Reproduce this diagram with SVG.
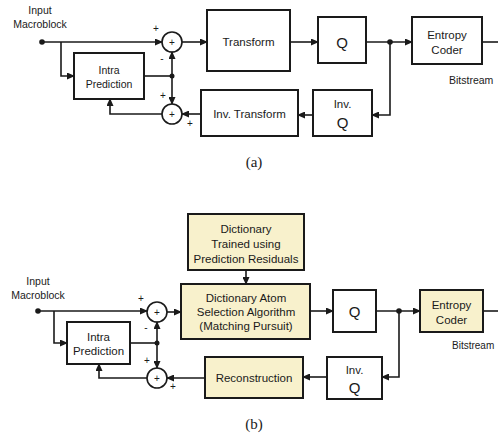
<svg xmlns="http://www.w3.org/2000/svg" width="498" height="435" viewBox="0 0 498 435">
<style>
.box{fill:#fff;stroke:#1a1a1a;stroke-width:2}
.yb{fill:#f8f1cc;stroke:#1a1a1a;stroke-width:2}
.sum{fill:#fff;stroke:#1a1a1a;stroke-width:1.6}
.ln{fill:none;stroke:#1a1a1a;stroke-width:1.6}
.ar{fill:none;stroke:#1a1a1a;stroke-width:1.6;marker-end:url(#ah)}
text{font-family:"Liberation Sans",Arial,sans-serif;font-size:11.5px;fill:#1a1a1a;text-anchor:middle}
.q{font-size:15px}
.sm{font-size:10.5px}
.s{font-size:10px}
.cap{font-family:"Liberation Serif","Times New Roman",serif;font-size:15px}
.st{text-anchor:start}
</style>
<defs>
<marker id="ah" markerWidth="8" markerHeight="7" refX="7" refY="3.5" orient="auto" markerUnits="userSpaceOnUse">
<path d="M0,0 L8,3.5 L0,7 Z" fill="#1a1a1a"/>
</marker>
</defs>

<!-- ===== (a) ===== -->
<g id="a-input"><text x="40" y="14" class="sm">Input</text><text x="40" y="28" class="sm">Macroblock</text><circle cx="42" cy="42" r="2.8" fill="#1a1a1a"/></g>
<g id="a-sum1"><circle class="sum" cx="172" cy="42" r="10"/><text x="172" y="46" class="s">+</text><text x="156" y="32" class="s">+</text><text x="162" y="62" class="s">-</text></g>
<g id="a-transform"><rect class="box" x="207" y="10" width="83" height="61"/><text x="248.5" y="46">Transform</text></g>
<g id="a-q"><rect class="box" x="318" y="17" width="48" height="46"/><text x="342" y="48" class="q">Q</text></g>
<g id="a-entropy"><rect class="box" x="412" y="17" width="70" height="47"/><text x="447" y="39">Entropy</text><text x="447" y="54">Coder</text></g>
<g id="a-bitstream"><text x="449" y="84" class="st" style="font-size:10.5px">Bitstream</text></g>
<g id="a-intra"><rect class="box" x="74" y="53" width="70" height="46"/><text x="109" y="74" class="sm">Intra</text><text x="109" y="88" class="sm">Prediction</text></g>
<g id="a-sum2"><circle class="sum" cx="172" cy="114" r="10"/><text x="172" y="118" class="s">+</text><text x="163" y="99" class="s">+</text><text x="190" y="127" class="s">+</text></g>
<g id="a-invtransform"><rect class="box" x="201" y="90" width="97" height="46"/><text x="249.5" y="118">Inv. Transform</text></g>
<g id="a-invq"><rect class="box" x="313" y="90" width="59" height="46"/><text x="342.5" y="108">Inv.</text><text x="342.5" y="128" class="q">Q</text></g>
<g id="a-caption"><text x="254" y="167" class="cap">(a)</text></g>

<!-- ===== (b) ===== -->
<g id="b-dict"><rect class="yb" x="188" y="214" width="116" height="56"/><text x="246" y="233">Dictionary</text><text x="246" y="248">Trained using</text><text x="246" y="263">Prediction Residuals</text></g>
<g id="b-atom"><rect class="yb" x="181" y="284" width="129" height="55"/><text x="246" y="302">Dictionary Atom</text><text x="246" y="316">Selection Algorithm</text><text x="246" y="330">(Matching Pursuit)</text></g>
<g id="b-input"><text x="38" y="285" class="sm">Input</text><text x="38" y="299" class="sm">Macroblock</text><circle cx="38" cy="311" r="2.8" fill="#1a1a1a"/></g>
<g id="b-sum1"><circle class="sum" cx="157" cy="312" r="10"/><text x="157" y="316" class="s">+</text><text x="141" y="302" class="s">+</text><text x="146" y="331" class="s">-</text></g>
<g id="b-intra"><rect class="box" x="67" y="322" width="63" height="42"/><text x="98.5" y="341">Intra</text><text x="98.5" y="355">Prediction</text></g>
<g id="b-sum2"><circle class="sum" cx="157" cy="378" r="10"/><text x="157" y="382" class="s">+</text><text x="147" y="364" class="s">+</text><text x="173" y="390" class="s">+</text></g>
<g id="b-q"><rect class="box" x="333" y="290" width="43" height="42"/><text x="354.5" y="317" class="q">Q</text></g>
<g id="b-entropy"><rect class="yb" x="420" y="290" width="63" height="42"/><text x="451.5" y="309">Entropy</text><text x="451.5" y="324">Coder</text></g>
<g id="b-bitstream"><text x="452" y="349" class="st" style="font-size:10px">Bitstream</text></g>
<g id="b-recon"><rect class="yb" x="205" y="357" width="98" height="41"/><text x="254" y="382">Reconstruction</text></g>
<g id="b-invq"><rect class="box" x="327" y="357" width="55" height="42"/><text x="354.5" y="374">Inv.</text><text x="354.5" y="393" class="q">Q</text></g>
<g id="b-caption"><text x="254" y="429" class="cap">(b)</text></g>

<g id="connectors">
<!-- (a) -->
<path class="ar" d="M42,42 H162"/>
<path class="ar" d="M61,42 V76 H74"/>
<path class="ln" d="M144,76 H172"/>
<path class="ar" d="M172,76 V52"/>
<path class="ar" d="M172,76 V104"/>
<circle cx="172" cy="76" r="2.5" fill="#1a1a1a"/>
<path class="ar" d="M182,42 H207"/>
<path class="ar" d="M290,42 H318"/>
<path class="ar" d="M366,42 H412"/>
<circle cx="390" cy="42" r="2.8" fill="#1a1a1a"/>
<path class="ln" d="M482,42 H498"/>
<path class="ar" d="M390,42 V115 H372"/>
<path class="ar" d="M313,115 H298"/>
<path class="ar" d="M201,114 H182"/>
<path class="ar" d="M162,114 H110 V99"/>
<!-- (b) -->
<path class="ar" d="M246,270 V284"/>
<path class="ar" d="M38,311 H147"/>
<path class="ar" d="M54,311 V343 H67"/>
<path class="ln" d="M130,343 H157"/>
<path class="ar" d="M157,343 V322"/>
<path class="ar" d="M157,343 V368"/>
<circle cx="157" cy="343" r="2.5" fill="#1a1a1a"/>
<path class="ar" d="M167,312 H181"/>
<path class="ar" d="M310,311 H333"/>
<path class="ar" d="M376,311 H420"/>
<circle cx="399" cy="311" r="2.8" fill="#1a1a1a"/>
<path class="ln" d="M483,311 H498"/>
<path class="ar" d="M399,311 V377 H382"/>
<path class="ar" d="M327,377 H303"/>
<path class="ar" d="M205,378 H167"/>
<path class="ar" d="M147,378 H99 V364"/>
</g>
</svg>
